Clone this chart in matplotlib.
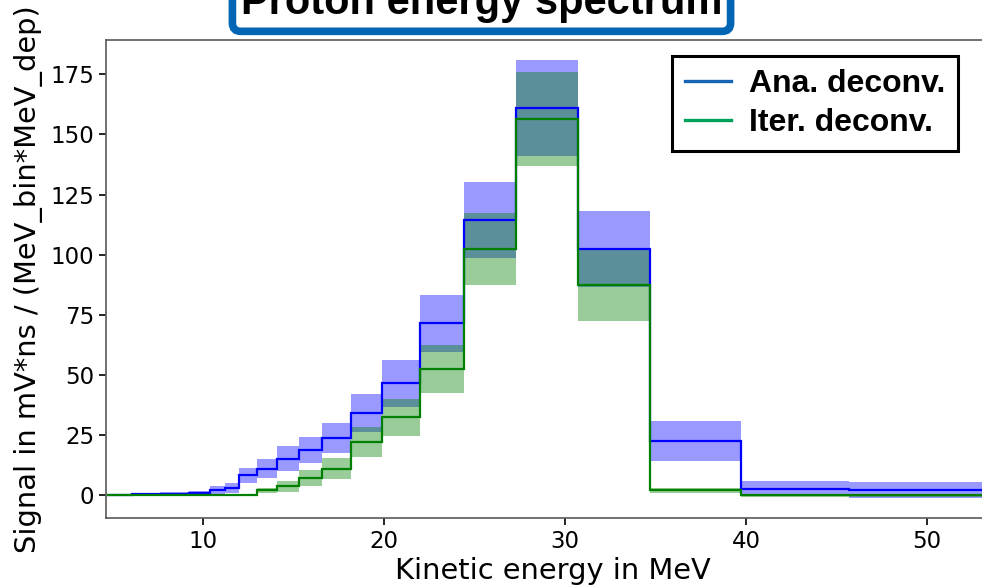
import numpy as np
import matplotlib
matplotlib.use("Agg")
import matplotlib.pyplot as plt
from matplotlib.lines import Line2D

# bin edges in MeV
edges = [4.7, 5.3, 6.1, 6.9, 7.6, 8.4, 9.2, 9.8, 10.4, 11.2, 12.0, 13.0, 14.1,
         15.3, 16.6, 18.2, 19.9, 22.0, 24.4, 27.3, 30.7, 34.7, 39.7, 45.7, 56.0]

# analytical deconvolution
ana = [0.3, 0.2, 0.5, 0.4, 0.7, 0.6, 0.9, 1.1, 2.1, 3.2, 8.3, 11.1, 15.3,
       19.0, 23.9, 34.3, 46.5, 71.5, 114.3, 161.0, 102.4, 22.7, 2.8, 2.4]
ana_err = [0.4, 0.4, 0.5, 0.5, 0.6, 0.6, 0.8, 0.8, 1.7, 2.1, 3.1, 4.0, 5.3,
           5.4, 6.3, 8.0, 9.6, 11.8, 15.8, 20.0, 15.8, 8.3, 3.0, 3.3]

# iterative deconvolution
itr = [0.0, 0.0, 0.0, 0.0, 0.0, 0.0, 0.0, 0.0, 0.0, 0.0, 0.1, 2.1, 3.75,
       7.2, 11.1, 22.2, 32.4, 52.5, 102.4, 156.3, 87.5, 2.1, 0.0, 0.0]
itr_err = [0.2, 0.2, 0.2, 0.2, 0.2, 0.2, 0.2, 0.2, 0.2, 0.2, 0.3, 1.0, 2.3,
           3.5, 4.5, 6.2, 7.6, 10.0, 15.0, 19.6, 15.0, 1.0, 0.5, 0.5]

edges = np.array(edges)
ana = np.array(ana); ana_err = np.array(ana_err)
itr = np.array(itr); itr_err = np.array(itr_err)

fig = plt.figure(figsize=(9.82, 5.86), dpi=100)
ax = fig.add_axes([106/982, 68/586, 893.4/982, 478.5/586])

# uncertainty bands
ax.stairs(ana + ana_err, edges, baseline=ana - ana_err, fill=True, color='blue', alpha=0.4, lw=0)
ax.stairs(itr + itr_err, edges, baseline=itr - itr_err, fill=True, color='green', alpha=0.4, lw=0)
# spectra
ax.stairs(ana, edges, baseline=None, color='blue', lw=1.6)
ax.stairs(itr, edges, baseline=None, color='green', lw=1.6)

ax.set_xlim(4.64, 54.0)
ax.set_ylim(-9.4, 189.4)
ax.set_xticks([10, 20, 30, 40, 50])
ax.set_yticks([0, 25, 50, 75, 100, 125, 150, 175])
ax.tick_params(labelsize=16.5, length=5, width=1.2)
for s in ax.spines.values():
    s.set_color('0.35')
    s.set_linewidth(1.2)

ax.set_xlabel("Kinetic energy in MeV", fontsize=20.8, labelpad=3)
ax.set_ylabel("Signal in mV*ns / (MeV_bin*MeV_dep)", fontsize=20.8, labelpad=5)

handles = [Line2D([], [], color='#1565b4', lw=2.4),
           Line2D([], [], color='#00a05a', lw=2.4)]
leg = fig.legend(handles, ["Ana. deconv.", "Iter. deconv."],
                 loc='upper right', bbox_to_anchor=(958/982, 1 - 56/586),
                 bbox_transform=fig.transFigure, borderaxespad=0,
                 fancybox=False, framealpha=1, edgecolor='black',
                 prop={'family': 'Liberation Sans', 'weight': 'bold', 'size': 23},
                 handlelength=1.45, handletextpad=0.55, labelspacing=0.3,
                 borderpad=0.4)
leg.get_frame().set_linewidth(2.2)

fig.text(481.5/982, 1 - 14/586, "Proton energy spectrum", ha='center', va='baseline',
         fontsize=30, fontweight='bold', family='Liberation Sans',
         bbox=dict(boxstyle='round,pad=0.2,rounding_size=0.2', facecolor='white',
                   edgecolor='#0066b3', linewidth=5.5))

fig.savefig("out.png", dpi=100)
